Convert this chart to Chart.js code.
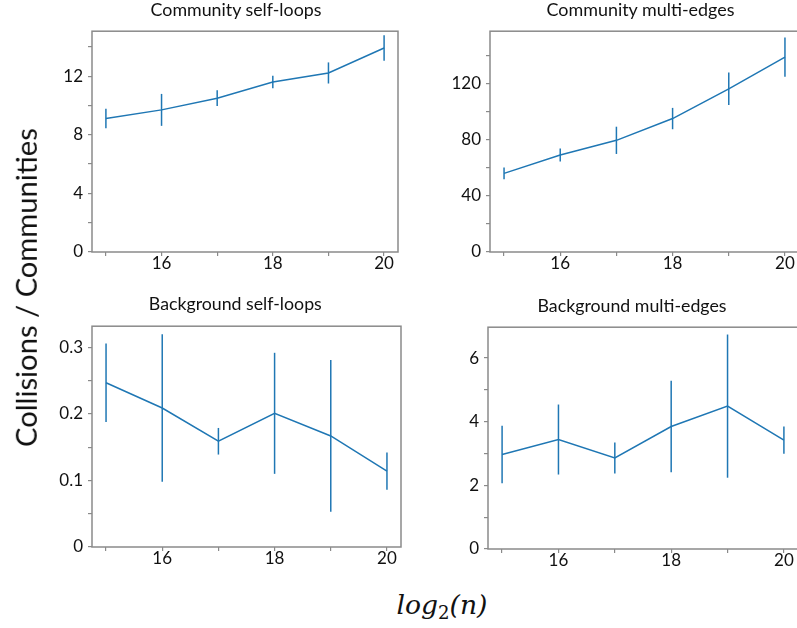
<!DOCTYPE html>
<html><head><meta charset="utf-8">
<script src="https://cdn.jsdelivr.net/npm/chart.js@4"></script>
<style>
html,body{margin:0;padding:0;background:#fff;width:797px;height:628px;overflow:hidden;position:relative}
canvas{position:absolute}
.t{position:absolute;white-space:nowrap;color:#111;line-height:1;transform-origin:50% 50%}
</style></head><body>
<script>
// ---- data ----
const xValues = [15, 16, 17, 18, 19, 20];
const xTickLabels = [16, 18, 20];

const commSelfLoopsMean = [9.11, 9.70, 10.50, 11.60, 12.22, 13.92];
const commSelfLoopsErr  = [0.66, 1.09, 0.54, 0.43, 0.72, 0.87];

const commMultiEdgesMean = [56.0, 69.0, 79.5, 95.0, 116.2, 138.7];
const commMultiEdgesErr  = [4.2, 4.6, 9.7, 7.6, 11.6, 14.0];

const bgSelfLoopsMean = [0.247, 0.209, 0.159, 0.201, 0.167, 0.114];
const bgSelfLoopsErr  = [0.059, 0.111, 0.020, 0.091, 0.114, 0.028];

const bgMultiEdgesMean = [2.97, 3.44, 2.86, 3.85, 4.49, 3.42];
const bgMultiEdgesErr  = [0.90, 1.10, 0.49, 1.44, 2.25, 0.43];

const titles = ["Community self-loops", "Community multi-edges", "Background self-loops", "Background multi-edges"];
const yLabel = "Collisions / Communities";

// ---- styling ----
const BLUE = '#1f77b4';
const AXIS = '#8a8a8a';
Chart.defaults.font.family = 'Lato';
Chart.defaults.color = '#111';

const errorBars = {
  id: 'errorBars',
  afterDatasetsDraw(chart) {
    const {ctx, scales: {x, y}} = chart;
    const ds = chart.data.datasets[0];
    ctx.save();
    ctx.strokeStyle = ds.borderColor;
    ctx.lineWidth = 1.5;
    ds.data.forEach((p, i) => {
      const px = x.getPixelForValue(p.x);
      ctx.beginPath();
      ctx.moveTo(px, y.getPixelForValue(p.y - ds.errors[i]));
      ctx.lineTo(px, y.getPixelForValue(p.y + ds.errors[i]));
      ctx.stroke();
    });
    ctx.restore();
  }
};
const frame = {
  id: 'frame',
  beforeDatasetsDraw(chart) {
    const {ctx, chartArea: a} = chart;
    ctx.save();
    ctx.strokeStyle = AXIS;
    ctx.lineWidth = 1.5;
    ctx.strokeRect(a.left, a.top, a.right - a.left, a.bottom - a.top);
    ctx.restore();
  }
};

function panel(area, means, errs, yMax, yStep, yLabelStep) {
  const PL = 80, PT = 10, PR = 12, PB = 40;
  const cv = document.createElement('canvas');
  cv.width = area.r - area.l + PL + PR;
  cv.height = area.b - area.t + PT + PB;
  cv.style.left = (area.l - PL) + 'px';
  cv.style.top = (area.t - PT) + 'px';
  document.body.appendChild(cv);
  const yTicks = [];
  for (let v = 0; v <= yMax + 1e-9; v += yStep) yTicks.push(Math.round(v * 1000) / 1000);
  new Chart(cv, {
    type: 'line',
    data: {
      datasets: [{
        data: xValues.map((x, i) => ({x, y: means[i]})),
        errors: errs,
        borderColor: BLUE,
        borderWidth: 1.5,
        pointRadius: 0,
        tension: 0,
        fill: false
      }]
    },
    options: {
      responsive: false,
      animation: false,
      events: [],
      layout: {padding: {left: 0, top: PT, right: PR, bottom: 0}},
      plugins: {legend: {display: false}, tooltip: {enabled: false}, title: {display: false}},
      scales: {
        x: {
          type: 'linear', min: 14.75, max: 20.25,
          afterBuildTicks: s => { s.ticks = xValues.map(v => ({value: v})); },
          afterFit: s => { s.height = PB; },
          grid: {drawOnChartArea: false, drawTicks: true, tickLength: 4, color: AXIS, lineWidth: 1.2},
          border: {display: false},
          ticks: {
            autoSkip: false, maxRotation: 0, padding: -3,
            font: {size: 17},
            callback: v => xTickLabels.includes(v) ? String(v) : ''
          }
        },
        y: {
          type: 'linear', min: 0, max: yMax,
          afterBuildTicks: s => { s.ticks = yTicks.map(v => ({value: v})); },
          afterFit: s => { s.width = PL; },
          grid: {drawOnChartArea: false, drawTicks: true, tickLength: 4, color: AXIS, lineWidth: 1.2},
          border: {display: false},
          ticks: {
            autoSkip: false, padding: 5,
            font: {size: 17},
            callback: v => {
              const r = v / yLabelStep;
              return Math.abs(r - Math.round(r)) < 1e-6 ? String(Math.round(v * 1000) / 1000) : '';
            }
          }
        }
      }
    },
    plugins: [frame, errorBars]
  });
}

panel({l: 92, r: 398, t: 26, b: 252}, commSelfLoopsMean, commSelfLoopsErr, 15.07, 2, 4);
panel({l: 490, r: 799, t: 26, b: 252}, commMultiEdgesMean, commMultiEdgesErr, 157.2, 20, 40);
panel({l: 92, r: 401, t: 321, b: 547}, bgSelfLoopsMean, bgSelfLoopsErr, 0.332, 0.05, 0.1);
panel({l: 488, r: 798, t: 322, b: 549}, bgMultiEdgesMean, bgMultiEdgesErr, 6.97, 1, 2);

// ---- text ----
function place(html, cx, cy, width, family, extra, rotate) {
  const d = document.createElement('div');
  d.className = 't';
  d.innerHTML = html;
  d.style.fontFamily = family;
  d.style.fontSize = '100px';
  if (extra) Object.assign(d.style, extra);
  document.body.appendChild(d);
  const w = d.getBoundingClientRect().width;
  d.style.fontSize = (100 * width / w) + 'px';
  const r = d.getBoundingClientRect();
  d.style.left = (cx - r.width / 2) + 'px';
  d.style.top = (cy - r.height / 2) + 'px';
  if (rotate) d.style.transform = 'rotate(' + rotate + 'deg)';
  return d;
}
place(titles[0], 236, 9.5, 171, 'Lato');
place(titles[1], 640.5, 9.5, 188, 'Lato');
place(titles[2], 235.3, 304, 173, 'Lato');
place(titles[3], 632, 306, 189, 'Lato');
place(yLabel, 25, 288, 319, 'Lato', null, -90);
place('log<span style="font-size:0.68em;position:relative;top:0.32em;font-style:normal">2</span>(n)', 442, 605, 91, 'DejaVu Serif', {fontStyle: 'italic'});
</script>
</body></html>
